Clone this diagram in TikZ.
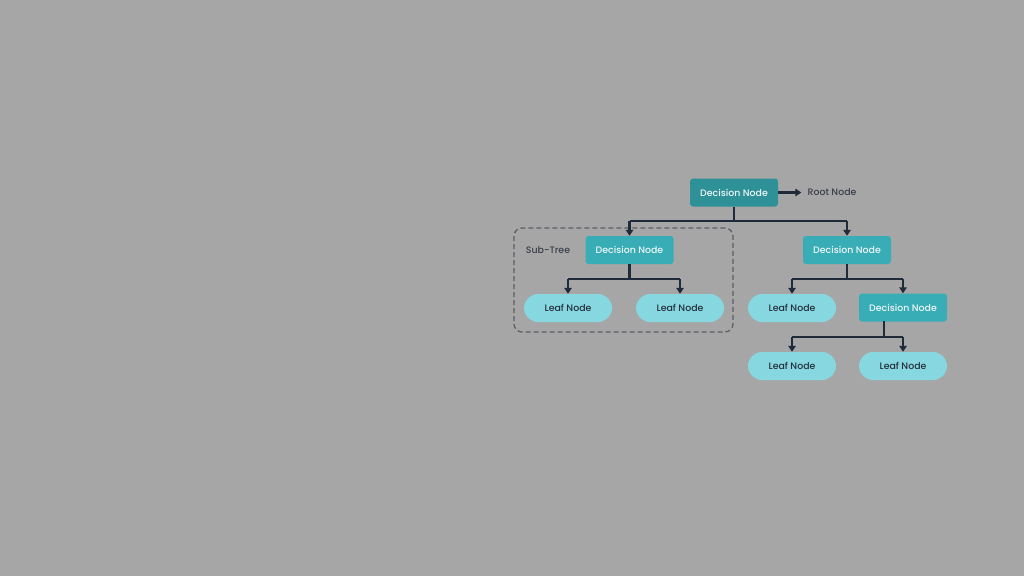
\documentclass[tikz,border=0pt]{standalone}
\usepackage{fontspec}
\setmainfont{Poppins}[UprightFont=* Medium]
\usetikzlibrary{arrows.meta}
\definecolor{bgc}{HTML}{A6A6A6}
\definecolor{rootc}{HTML}{2F9198}
\definecolor{decc}{HTML}{39ADB6}
\definecolor{leafc}{HTML}{86D7E0}
\definecolor{linec}{HTML}{1F2A3B}
\definecolor{leaftxt}{HTML}{26303F}
\definecolor{dectxt}{HTML}{EEF7F8}
\definecolor{labc}{HTML}{3A404B}
\definecolor{dashc}{HTML}{5C5F66}
\tikzset{
  box/.style={minimum width=88pt, minimum height=28pt, inner sep=0pt, font=\fontsize{9.4}{11}\selectfont},
  decbox/.style={box, fill=decc, rounded corners=3pt, text=dectxt},
  rootbox/.style={box, fill=rootc, rounded corners=3pt, text=dectxt},
  leafbox/.style={box, fill=leafc, rounded corners=14pt, text=leaftxt},
  lab/.style={font=\fontsize{9.4}{11}\selectfont, text=labc, inner sep=0pt},
  conn/.style={draw=linec, line width=2.2pt, -{Triangle[length=6pt,width=7.5pt]}},
  plain/.style={draw=linec, line width=2.2pt},
}
\begin{document}
\begin{tikzpicture}[x=1pt,y=-1pt]
\fill[bgc] (0,0) rectangle (1024,576);
\useasboundingbox (0,0) rectangle (1024,576);
% dashed subtree frame
\draw[dashc, line width=1.3pt, dash pattern=on 5pt off 3pt, rounded corners=8pt] (514,228) rectangle (733,332);
\node[rootbox] (root) at (734,192.5) {Decision Node};
\node[lab] (rootlab) at (832,192.5) {Root Node};
\node[decbox] (d1) at (629.5,250) {Decision Node};
\node[decbox] (d2) at (847,250) {Decision Node};
\node[lab] (sub) at (548,250) {Sub-Tree};
\node[leafbox] (l1) at (568,308) {Leaf Node};
\node[leafbox] (l2) at (680,308) {Leaf Node};
\node[leafbox] (l3) at (792,308) {Leaf Node};
\node[decbox] (d3) at (903,307.5) {Decision Node};
\node[leafbox] (l4) at (792,366) {Leaf Node};
\node[leafbox] (l5) at (903,366) {Leaf Node};
% connectors
\draw[conn] (root.east) -- ([xshift=-6pt]rootlab.west);
\draw[plain] (root.south) -- (734,221);
\draw[conn] (629.5,221) -- (d1.north);
\draw[conn] (847,221) -- (d2.north);
\draw[plain] (629.5,221) -- (847,221);
\draw[plain] (d1.south) -- (629.5,279);
\draw[plain] (568,279) -- (680,279);
\draw[conn] (568,279) -- (l1.north);
\draw[conn] (680,279) -- (l2.north);
\draw[plain] (d2.south) -- (847,279);
\draw[plain] (792,279) -- (903,279);
\draw[conn] (792,279) -- (l3.north);
\draw[conn] (903,279) -- (d3.north);
\coordinate (d3stem) at (884,321);
\draw[plain] (d3stem) -- (884,337);
\draw[plain] (792,337) -- (903,337);
\draw[conn] (792,337) -- (l4.north);
\draw[conn] (903,337) -- (l5.north);
\end{tikzpicture}
\end{document}
